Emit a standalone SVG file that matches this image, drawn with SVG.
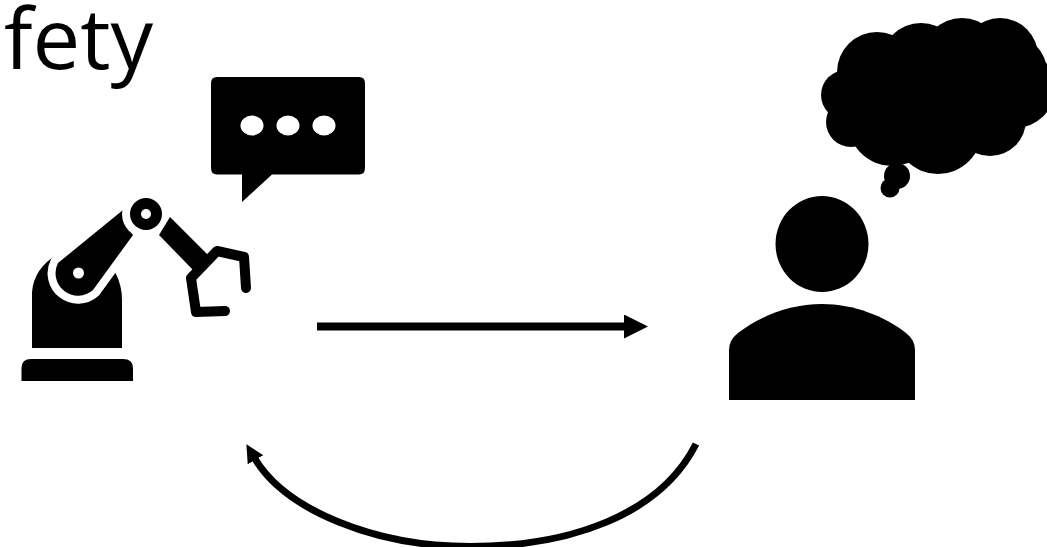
<svg xmlns="http://www.w3.org/2000/svg" width="1047" height="547" viewBox="0 0 1047 547">
<defs>
<style>
.k{fill:#000}
.w{fill:#fff}
.ln{fill:none;stroke:#000}
</style>
<marker id="ah" markerUnits="userSpaceOnUse" markerWidth="26" markerHeight="26" refX="6" refY="12" orient="auto"><path d="M0 0L24 12L0 24Z" fill="#000"/></marker>
<marker id="ah2" markerUnits="userSpaceOnUse" markerWidth="20" markerHeight="20" refX="2" refY="9" orient="auto"><path d="M0 0L18 9L0 18Z" fill="#000"/></marker>
</defs>
<rect width="1047" height="547" fill="#fff"/>
<text x="4" y="69" font-family="'Open Sans', sans-serif" font-size="85" fill="#000">fety</text>
<g id="robot">
<path class="k" d="M21.500 381V368Q21.500 359 31 359H123Q133 359 133 368V381Z"/>
<path class="k" d="M32 348V292Q34 268 58 254L115 272Q122 285 122 300V348Z"/>
<path d="M58 263L123 210Q125 225 133 235L93 290A22.500 22.500 0 0 1 58 263Z" fill="#fff" stroke="#fff" stroke-width="16" stroke-linejoin="round"/>
<path class="k" d="M58 263L123 210Q125 225 133 235L93 290A22.500 22.500 0 0 1 58 263Z"/>
<circle class="w" cx="146" cy="214" r="24"/>
<circle class="k" cx="146" cy="214" r="16"/>
<circle class="w" cx="146" cy="214" r="5"/>
<circle class="w" cx="78.500" cy="273" r="5.500"/>
<path class="k" d="M170 217L159 235L193 270L208 255Z"/>
<path d="M246 288L244 257L217 251L191 278L196 312L225 311" fill="none" stroke="#000" stroke-width="10" stroke-linecap="round" stroke-linejoin="round"/>
</g>
<g id="speech-bubble">
<path class="k" d="M217 77H359Q365 77 365 83V168Q365 174.500 359 174.500H272L242 202V174.500H217Q211 174.500 211 168V83Q211 77 217 77Z"/>
<ellipse class="w" cx="252" cy="125.500" rx="11.500" ry="10"/>
<ellipse class="w" cx="288" cy="125.500" rx="11.500" ry="10"/>
<ellipse class="w" cx="324" cy="125.500" rx="11.500" ry="10"/>
</g>
<g id="person">
<ellipse class="k" cx="822" cy="244" rx="46.500" ry="48"/>
<path class="k" d="M729 400V350Q729 340 738 333C760 316 790 304 822 304C854 304 884 316 906 333Q915 340 915 350V400Z"/>
</g>
<g id="thought-cloud" class="k">
<circle cx="877" cy="72" r="40"/>
<circle cx="921" cy="63" r="40"/>
<circle cx="962" cy="58" r="40"/>
<circle cx="1000" cy="56" r="38"/>
<circle cx="1010" cy="72" r="37"/>
<circle cx="1015" cy="88" r="40"/>
<circle cx="990" cy="120" r="36"/>
<circle cx="938" cy="130" r="44"/>
<circle cx="892" cy="122" r="44"/>
<circle cx="851" cy="122" r="25"/>
<circle cx="846" cy="95" r="25"/>
<circle cx="950" cy="95" r="50"/>
<circle cx="897" cy="176" r="13"/>
<circle cx="890" cy="188" r="9.500"/>
</g>
<g id="connectors">
<path class="ln" stroke-width="8" d="M317 326.500H630" marker-end="url(#ah)"/>
<path class="ln" stroke-width="7" d="M696 444C660 515 570 546.500 470 546.500C375 546.500 285 510 254.500 458" marker-end="url(#ah2)"/>
</g>
</svg>
